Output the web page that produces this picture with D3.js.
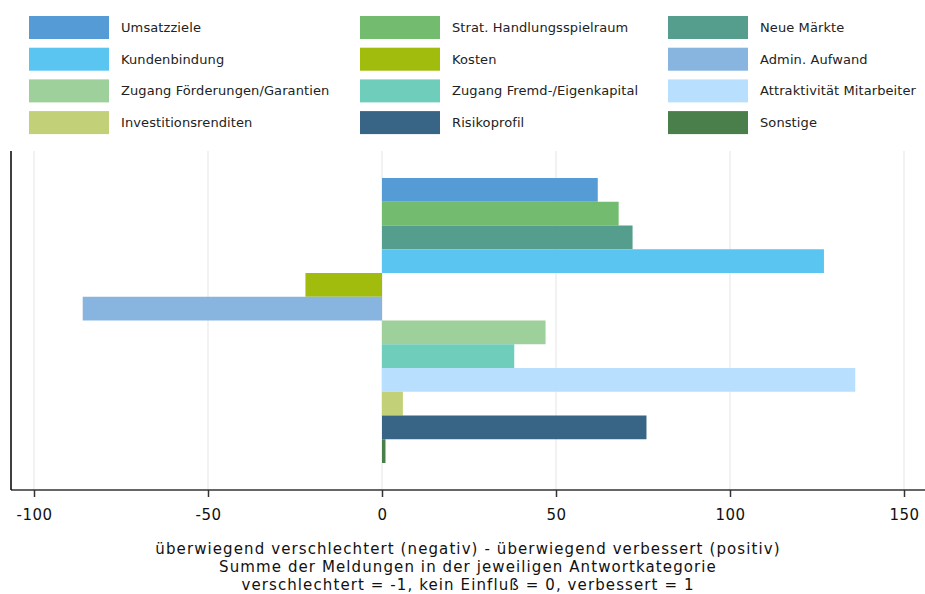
<!DOCTYPE html>
<html><head><meta charset="utf-8">
<script src="https://cdn.jsdelivr.net/npm/d3@7"></script>
<style>body{margin:0;background:#fff}svg{display:block}text{font-family:"DejaVu Sans",sans-serif}</style>
</head><body>
<svg id="c" width="925" height="594"></svg>
<script>
const categories = ["Umsatzziele","Strat. Handlungsspielraum","Neue Märkte","Kundenbindung","Kosten","Admin. Aufwand","Zugang Förderungen/Garantien","Zugang Fremd-/Eigenkapital","Attraktivität Mitarbeiter","Investitionsrenditen","Risikoprofil","Sonstige"];
const values = [62,68,72,127,-22,-86,47,38,136,6,76,1];
const colors = ["#559bd6","#72bb6f","#559e8d","#5bc5f2","#a2bc0d","#87b5e0","#9dd09a","#6fcdbb","#b8e0fe","#c2d077","#386486","#4a7e4b"];
const legendOrder = ["Umsatzziele","Kundenbindung","Zugang Förderungen/Garantien","Investitionsrenditen","Strat. Handlungsspielraum","Kosten","Zugang Fremd-/Eigenkapital","Risikoprofil","Neue Märkte","Admin. Aufwand","Attraktivität Mitarbeiter","Sonstige"];
const ticks = [-100,-50,0,50,100,150];
const titleLines = ["überwiegend verschlechtert (negativ) - überwiegend verbessert (positiv)","Summe der Meldungen in der jeweiligen Antwortkategorie","verschlechtert = -1, kein Einfluß = 0, verbessert = 1"];

const svg = d3.select("#c");
const x = d3.scaleLinear().domain([-100,150]).range([34,904]);
const y = d3.scaleBand().domain(categories).range([178,463]).padding(0);
const colorOf = d3.scaleOrdinal().domain(categories).range(colors);
const plotTop = 151, plotBottom = 490, plotLeft = 11, plotRight = 925;

// gridlines
svg.append("g").selectAll("line").data(ticks).join("line")
  .attr("x1",d=>x(d)).attr("x2",d=>x(d)).attr("y1",plotTop).attr("y2",plotBottom)
  .attr("stroke","#eeeeee").attr("stroke-width",1.5);

// bars
svg.append("g").selectAll("rect").data(categories).join("rect")
  .attr("x",(d,i)=>x(Math.min(0,values[i])))
  .attr("width",(d,i)=>Math.abs(x(values[i])-x(0)))
  .attr("y",d=>y(d)).attr("height",y.bandwidth())
  .attr("fill",d=>colorOf(d));

// axes
const ax = svg.append("g").attr("transform",`translate(0,${plotBottom})`)
  .call(d3.axisBottom(x).tickValues(ticks).tickSize(7).tickPadding(12).tickFormat(d=>String(d)));
ax.select(".domain").remove();
ax.selectAll("line").attr("stroke","#333").attr("stroke-width",1.5);
ax.selectAll("text").attr("font-size",15).attr("fill","#111").attr("letter-spacing",0.5).style("font-family","'DejaVu Sans',sans-serif");
svg.append("line").attr("x1",plotLeft).attr("x2",plotRight).attr("y1",plotBottom).attr("y2",plotBottom).attr("stroke","#333").attr("stroke-width",1.5);
svg.append("line").attr("x1",plotLeft).attr("x2",plotLeft).attr("y1",plotTop).attr("y2",plotBottom).attr("stroke","#000").attr("stroke-width",1.5);

// axis title
svg.append("g").selectAll("text").data(titleLines).join("text")
  .attr("x",468).attr("y",(d,i)=>554+i*18).attr("text-anchor","middle")
  .attr("font-size",15).attr("letter-spacing",1.1).attr("fill","#111").text(d=>d);

// legend
const colX = [29,360,668];
const lg = svg.append("g").selectAll("g").data(legendOrder).join("g")
  .attr("transform",(d,i)=>`translate(${colX[Math.floor(i/4)]},${16+(i%4)*31.7})`);
lg.append("rect").attr("width",80).attr("height",23).attr("fill",d=>colorOf(d));
lg.append("text").attr("x",92).attr("y",16).attr("font-size",13).attr("letter-spacing",0.1).attr("fill","#222").text(d=>d);
</script>
</body></html>
